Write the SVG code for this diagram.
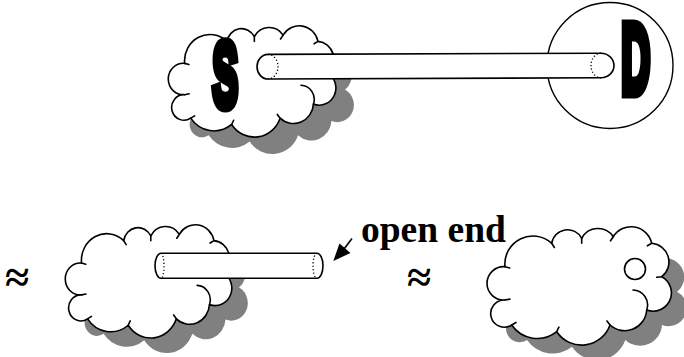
<svg xmlns="http://www.w3.org/2000/svg" xmlns:xlink="http://www.w3.org/1999/xlink" width="684" height="357" viewBox="0 0 684 357">
  <style>
    .shadow { fill: #808080; stroke: none; }
    .cloud { fill: #ffffff; stroke: #000000; stroke-width: 1.6; stroke-linejoin: round; }
    .curl { fill: none; stroke: #000000; stroke-width: 1.6; stroke-linecap: round; }
    .tube-body { fill: #ffffff; stroke: none; }
    .edge { fill: none; stroke: #000000; stroke-width: 1.6; stroke-linecap: round; }
    .dots { fill: none; stroke: #000000; stroke-width: 1.3; stroke-dasharray: 1.2 2.2; }
    .letter { font-family: "Liberation Sans", Arial, sans-serif; font-weight: bold; fill: #000; stroke: #000; stroke-width: 11; stroke-linejoin: miter; }
    .label { font-family: "Liberation Serif", "Times New Roman", serif; font-weight: bold; fill: #000; }
  </style>
  <defs>
    <!-- scalloped cloud outline, local box about 186 x 116 -->
    <path id="cloudShape" vector-effect="non-scaling-stroke"
      d="M18.3,38.7 A28,28 0 0 1 65,15.3 A16,16 0 0 1 95,10.3 A18.4,18.4 0 0 1 126.6,8.7 A21,21 0 0 1 165,15.3 A18.7,18.7 0 0 1 175,48.7 A18.3,18.3 0 0 1 160,82 A22,22 0 0 1 123.3,97 A30,30 0 0 1 70,103.7 A31,31 0 0 1 25,97 A13.6,13.6 0 1 1 18.3,72 A16.7,16.7 0 1 1 18.3,38.7 Z"/>
    <!-- short inner strokes at the notches between lobes -->
    <path id="cloudCurls" vector-effect="non-scaling-stroke"
      d="M146.3,62 A15,15 0 0 1 160,82 M18.3,38.7 L23,40 M65,15.3 L67.7,19.5 M95,10.3 L95,15.3 M126.6,8.7 L123.8,12.8 M165,15.3 L160.7,17.8 M175,48.7 L170,49.3 M123.3,97 L120.3,93 M70,103.7 L72.2,99.2 M25,97 L29.3,94.5 M18.3,72 L23.2,71.1"/>
  </defs>

  <!-- source cloud with the S -->
  <g id="source-cloud">
    <use xlink:href="#cloudShape" class="shadow" transform="translate(186,44) scale(0.909,0.94)"/>
    <use xlink:href="#cloudShape" class="cloud" transform="translate(168,27) scale(0.909,0.94)"/>
    <use xlink:href="#cloudCurls" class="curl" transform="translate(168,27) scale(0.909,0.94)"/>
    <text class="letter" font-size="91" transform="translate(212.5,105.5) scale(0.42,1)">S</text>
  </g>

  <!-- destination circle with the D -->
  <g id="destination">
    <circle cx="610" cy="65.5" r="63" fill="#ffffff" stroke="#000000" stroke-width="1.4"/>
    <text class="letter" font-size="98" transform="translate(621.2,93) scale(0.41,1)">D</text>
  </g>

  <!-- cloud with an open-ended pipe -->
  <g id="pipe-cloud">
    <use xlink:href="#cloudShape" class="shadow" transform="translate(81,241) scale(0.903,0.957)"/>
    <use xlink:href="#cloudShape" class="cloud" transform="translate(65,226) scale(0.903,0.957)"/>
    <use xlink:href="#cloudCurls" class="curl" transform="translate(65,226) scale(0.903,0.957)"/>
  </g>

  <!-- cloud with a small hole -->
  <g id="hole-cloud">
    <use xlink:href="#cloudShape" class="shadow" transform="translate(502,243)"/>
    <use xlink:href="#cloudShape" class="cloud" transform="translate(486.7,228)"/>
    <use xlink:href="#cloudCurls" class="curl" transform="translate(486.7,228)"/>
    <circle cx="635" cy="269" r="10.5" fill="#ffffff" stroke="#000000" stroke-width="1.6"/>
  </g>

  <!-- pipes -->
  <g id="connectors">
    <g id="pipe-sd">
      <path class="tube-body" d="M268,54.4 L601,53.2 A13,12.3 0 0 1 601,77.8 L268,79 A11,12.3 0 0 1 268,54.4 Z"/>
      <path class="edge" d="M268,54.4 L601,53.2 A13,12.3 0 0 1 601,77.8 L268,79 A11,12.3 0 0 1 268,54.4"/>
      <path class="dots" d="M268,54.4 A10,12.3 0 0 1 268,79"/>
      <path class="dots" d="M601,53.2 A10,12.3 0 0 0 601,77.8"/>
    </g>
    <g id="pipe-open">
      <path class="tube-body" d="M161,253.3 L317,253.3 A6,12.5 0 0 1 317,278.3 L161,278.3 A6,12.5 0 0 1 161,253.3 Z"/>
      <path class="edge" d="M161,253.3 L317,253.3 A6,12.5 0 0 1 317,278.3 L161,278.3 A6,12.5 0 0 1 161,253.3"/>
      <path class="dots" d="M161,253.3 A3,12.5 0 0 1 161,278.3"/>
      <path class="dots" d="M317,253.3 A4,12.5 0 0 0 317,278.3"/>
    </g>
    <g id="open-end-arrow">
      <line x1="352" y1="238.5" x2="344" y2="249" stroke="#000" stroke-width="1.6"/>
      <polygon points="333.3,261 339.5,243.5 350.5,253" fill="#000"/>
    </g>
  </g>

  <!-- labels -->
  <text class="label" x="361" y="242" font-size="37.5">open end</text>
  <text class="label" x="5" y="292" font-size="44">≈</text>
  <text class="label" x="407" y="292" font-size="44">≈</text>
</svg>
